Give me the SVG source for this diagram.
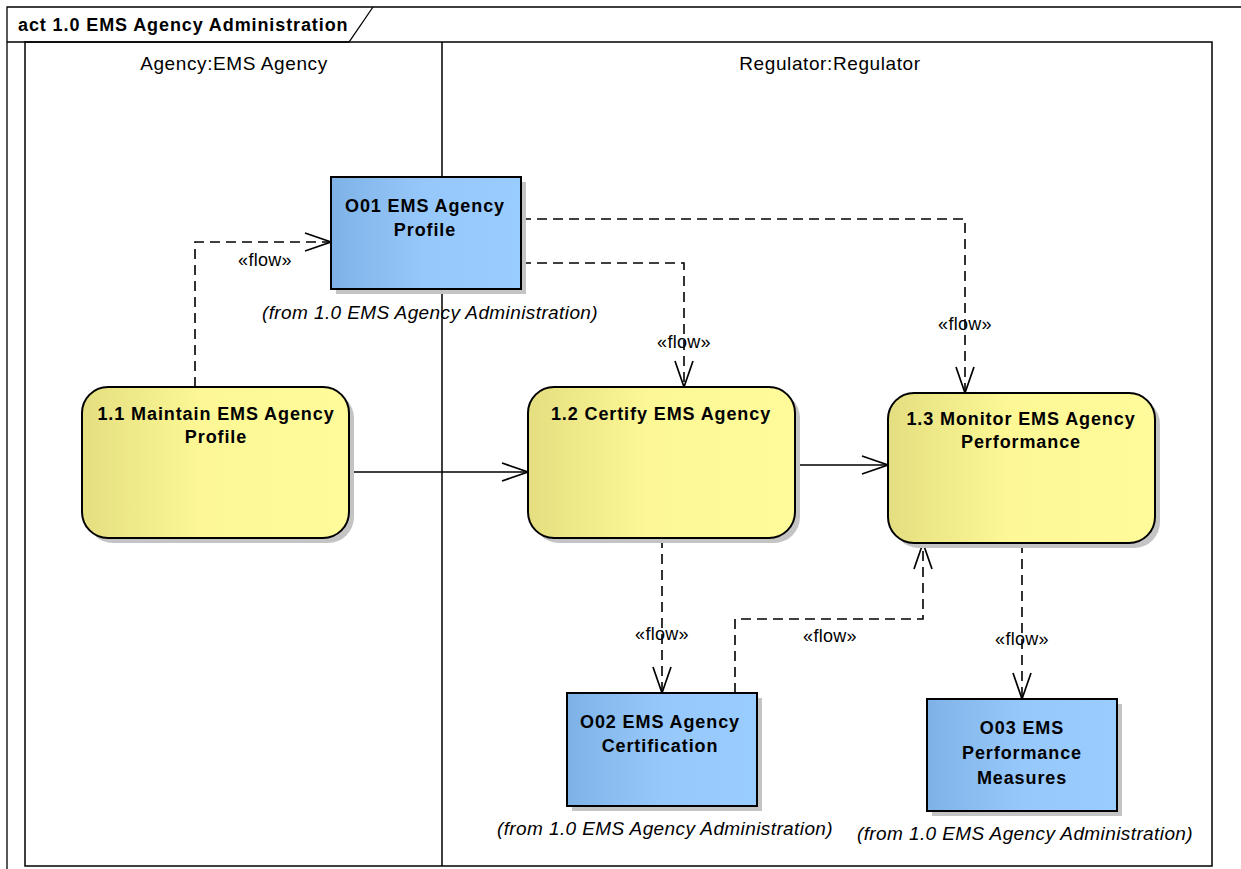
<svg xmlns="http://www.w3.org/2000/svg" width="1241" height="869" viewBox="0 0 1241 869">
<style>
.frame{fill:none;stroke:#000;stroke-width:1.3}
.lane{fill:none;stroke:#000;stroke-width:1.5}
.title{font-family:"Liberation Sans",Arial,sans-serif;font-weight:bold;font-size:18px;letter-spacing:0.9px}
.lanelbl{font-family:"Liberation Sans",Arial,sans-serif;font-size:19px;letter-spacing:0.6px;text-anchor:middle}
.nl{font-family:"Liberation Sans",Arial,sans-serif;font-weight:bold;font-size:18px;letter-spacing:0.9px;text-anchor:middle}
.cap{font-family:"Liberation Sans",Arial,sans-serif;font-style:italic;font-size:19px;letter-spacing:0.4px;text-anchor:middle}
.flow{font-family:"Liberation Sans",Arial,sans-serif;font-size:18px;letter-spacing:0.3px;text-anchor:middle}
.shadow{fill:#c4c4c4}
.act{fill:url(#yg);stroke:#000;stroke-width:2}
.obj{fill:url(#bg);stroke:#000;stroke-width:2}
.dash{fill:none;stroke:#000;stroke-width:1.6;stroke-dasharray:10,6}
.solid{fill:none;stroke:#000;stroke-width:1.6}
</style>
<defs>
<linearGradient id="yg" x1="0" y1="0" x2="1" y2="0">
<stop offset="0" stop-color="#e4de80"/>
<stop offset="0.45" stop-color="#fdf895"/>
<stop offset="1" stop-color="#fffb9a"/>
</linearGradient>
<linearGradient id="bg" x1="0" y1="0" x2="1" y2="0">
<stop offset="0" stop-color="#7eb2e6"/>
<stop offset="0.5" stop-color="#97c8fb"/>
<stop offset="1" stop-color="#99ccff"/>
</linearGradient>
<marker id="arr" viewBox="0 0 30 22" refX="27" refY="11" markerWidth="30" markerHeight="22" markerUnits="userSpaceOnUse" orient="auto">
<path d="M1,2 L27,11 L1,20" fill="none" stroke="#000" stroke-width="1.7"/>
</marker>
</defs>
<rect width="1241" height="869" fill="#fff"/>
<g id="frame">
<path class="frame" d="M7,869 V7 H1241"/>
<path class="frame" d="M7,42 H349 L373,7"/>
<text class="title" x="18" y="31">act 1.0 EMS Agency Administration</text>
</g>
<g id="lanes">
<rect class="lane" x="25" y="42" width="1187" height="824"/>
<line class="lane" x1="442" y1="42" x2="442" y2="866"/>
<text class="lanelbl" x="234" y="70">Agency:EMS Agency</text>
<text class="lanelbl" x="830" y="70">Regulator:Regulator</text>
</g>
<g id="connectors">
<path class="dash" d="M195,387 V242 H331" marker-end="url(#arr)"/>
<text class="flow" x="265" y="266">«flow»</text>
<path class="dash" d="M521,263 H684 V387" marker-end="url(#arr)"/>
<text class="flow" x="684" y="348">«flow»</text>
<path class="dash" d="M521,219 H965 V393" marker-end="url(#arr)"/>
<text class="flow" x="965" y="330">«flow»</text>
<path class="solid" d="M349,472 H528" marker-end="url(#arr)"/>
<path class="solid" d="M795,465 H888" marker-end="url(#arr)"/>
<path class="dash" d="M662,538 V693" marker-end="url(#arr)"/>
<text class="flow" x="662" y="640">«flow»</text>
<path class="dash" d="M735,693 V619 H923 V543" marker-end="url(#arr)"/>
<text class="flow" x="830" y="642">«flow»</text>
<path class="dash" d="M1022,543 V699" marker-end="url(#arr)"/>
<text class="flow" x="1022" y="645">«flow»</text>
</g>
<g id="n11">
<rect class="shadow" x="87" y="392" width="267" height="151" rx="26"/>
<rect class="act" x="82" y="387" width="267" height="151" rx="26"/>
<text class="nl" x="216" y="420">1.1 Maintain EMS Agency</text>
<text class="nl" x="216" y="443">Profile</text>
</g>
<g id="n12">
<rect class="shadow" x="533" y="392" width="267" height="151" rx="26"/>
<rect class="act" x="528" y="387" width="267" height="151" rx="26"/>
<text class="nl" x="661" y="420">1.2 Certify EMS Agency</text>
</g>
<g id="n13">
<rect class="shadow" x="893" y="398" width="267" height="150" rx="26"/>
<rect class="act" x="888" y="393" width="267" height="150" rx="26"/>
<text class="nl" x="1021" y="425">1.3 Monitor EMS Agency</text>
<text class="nl" x="1021" y="448">Performance</text>
</g>
<g id="o01">
<rect class="shadow" x="336" y="182" width="190" height="112"/>
<rect class="obj" x="331" y="177" width="190" height="112"/>
<text class="nl" x="425" y="212">O01 EMS Agency</text>
<text class="nl" x="425" y="236">Profile</text>
<text class="cap" x="430" y="319">(from 1.0 EMS Agency Administration)</text>
</g>
<g id="o02">
<rect class="shadow" x="572" y="698" width="190" height="113"/>
<rect class="obj" x="567" y="693" width="190" height="113"/>
<text class="nl" x="660" y="728">O02 EMS Agency</text>
<text class="nl" x="660" y="752">Certification</text>
<text class="cap" x="665" y="835">(from 1.0 EMS Agency Administration)</text>
</g>
<g id="o03">
<rect class="shadow" x="932" y="704" width="190" height="112"/>
<rect class="obj" x="927" y="699" width="190" height="112"/>
<text class="nl" x="1022" y="734">O03 EMS</text>
<text class="nl" x="1022" y="759">Performance</text>
<text class="nl" x="1022" y="784">Measures</text>
<text class="cap" x="1025" y="840">(from 1.0 EMS Agency Administration)</text>
</g>
</svg>
